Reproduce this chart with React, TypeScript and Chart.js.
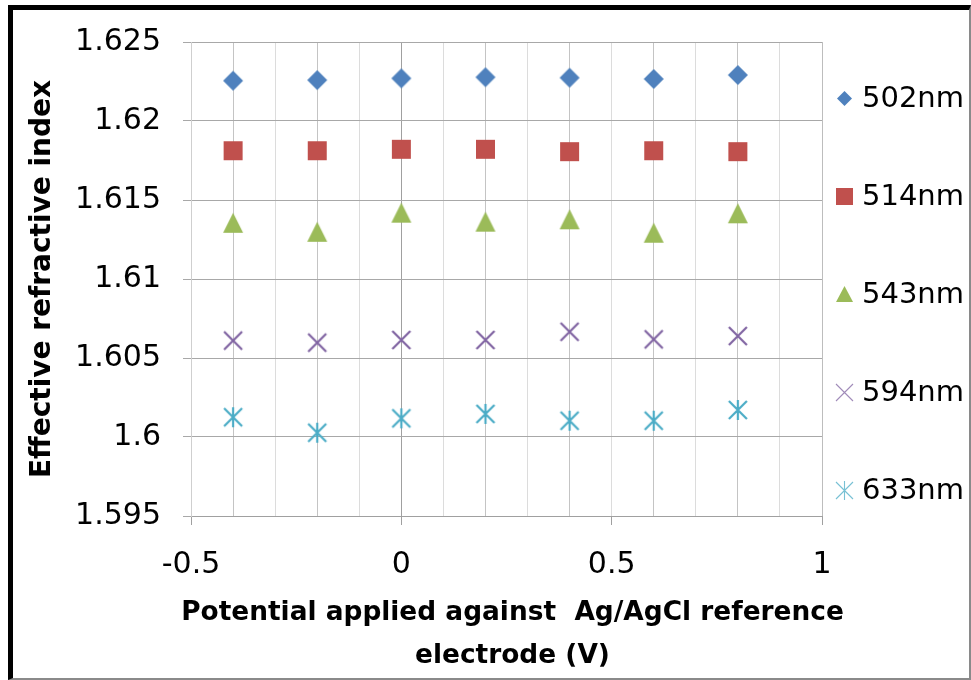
import React, { useEffect, useRef } from "react";
import { Chart, registerables } from "chart.js";

Chart.register(...registerables);

// Applied potential vs Ag/AgCl (V)
const potentials = [-0.4, -0.2, 0, 0.2, 0.4, 0.6, 0.8];

// Effective refractive index for each wavelength
const n502 = [1.62255, 1.62259, 1.6227, 1.62277, 1.62274, 1.62266, 1.62291];
const n514 = [1.61812, 1.61812, 1.61821, 1.61821, 1.61806, 1.61812, 1.61806];
const n543 = [1.61356, 1.61299, 1.6142, 1.61363, 1.61378, 1.61293, 1.61416];
const n594 = [1.6061, 1.60597, 1.60614, 1.60614, 1.60666, 1.60618, 1.60639];
const n633 = [1.60125, 1.60027, 1.60118, 1.60146, 1.60103, 1.60103, 1.60171];

const seriesLabels = ["502nm", "514nm", "543nm", "594nm", "633nm"];
const seriesColors = ["#4F81BD", "#C0504D", "#9BBB59", "#8064A2", "#4BACC6"];
const seriesShapes = ["diamond", "square", "triangle", "cross", "star"];

const yTitle = "Effective refractive index";
const xTitle = ["Potential applied against  Ag/AgCl reference", "electrode (V)"];

const FONT = "'DejaVu Sans', 'Open Sans', sans-serif";

// Builds a small canvas holding one marker, centred on its bounding box.
function makeMarker(shape: string, w: number, h: number, color: string, lw: number, alpha = 1) {
  const pad = 3;
  const c = document.createElement("canvas");
  c.width = Math.round(w + pad * 2);
  c.height = Math.round(h + pad * 2);
  const ctx = c.getContext("2d")!;
  const cx = c.width / 2;
  const cy = c.height / 2;
  ctx.globalAlpha = alpha;
  ctx.fillStyle = color;
  ctx.strokeStyle = color;
  ctx.lineWidth = lw;
  ctx.beginPath();
  if (shape === "diamond") {
    ctx.moveTo(cx, cy - h / 2);
    ctx.lineTo(cx + w / 2, cy);
    ctx.lineTo(cx, cy + h / 2);
    ctx.lineTo(cx - w / 2, cy);
    ctx.closePath();
    ctx.fill();
  } else if (shape === "square") {
    ctx.rect(cx - w / 2, cy - h / 2, w, h);
    ctx.fill();
  } else if (shape === "triangle") {
    ctx.moveTo(cx, cy - h / 2);
    ctx.lineTo(cx + w / 2, cy + h / 2);
    ctx.lineTo(cx - w / 2, cy + h / 2);
    ctx.closePath();
    ctx.fill();
  } else if (shape === "cross") {
    ctx.moveTo(cx - w / 2, cy - h / 2);
    ctx.lineTo(cx + w / 2, cy + h / 2);
    ctx.moveTo(cx + w / 2, cy - h / 2);
    ctx.lineTo(cx - w / 2, cy + h / 2);
    ctx.stroke();
  } else {
    ctx.moveTo(cx - w / 2, cy - h / 2);
    ctx.lineTo(cx + w / 2, cy + h / 2);
    ctx.moveTo(cx + w / 2, cy - h / 2);
    ctx.lineTo(cx - w / 2, cy + h / 2);
    ctx.moveTo(cx, cy - h / 2 - 1);
    ctx.lineTo(cx, cy + h / 2 + 1);
    ctx.stroke();
  }
  return c;
}

const plotMarkerSize: Record<string, [number, number, number]> = {
  diamond: [20, 20, 0],
  square: [19, 19, 0],
  triangle: [20, 20, 0],
  cross: [18, 18, 2.2],
  star: [18, 18, 2.2],
};
const legendMarkerSize: Record<string, [number, number, number]> = {
  diamond: [15, 15, 0],
  square: [17, 17, 0],
  triangle: [17, 16, 0],
  cross: [17, 17, 1.1],
  star: [17, 17, 1.1],
};

// Vertical legend to the right of the plot area, plus the two-line x-axis title
// (which is wider than the plot area, so it is drawn here without squeezing).
function makeSideDecor(markers: HTMLCanvasElement[]) {
  return {
    id: "sideDecor",
    afterDraw(chart: any) {
      const { ctx, chartArea } = chart;
      ctx.save();
      ctx.font = `29px ${FONT}`;
      ctx.fillStyle = "#000";
      ctx.textBaseline = "middle";
      ctx.textAlign = "left";
      chart.data.datasets.forEach((ds: any, i: number) => {
        const y = chartArea.top + 56 + i * 98.2;
        const mx = chartArea.right + 22;
        const m = markers[i];
        if (m) ctx.drawImage(m, Math.round(mx - m.width / 2), Math.round(y - m.height / 2));
        ctx.fillText(ds.label, chartArea.right + 40, y + 1);
      });

      ctx.font = `bold 26.4px ${FONT}`;
      ctx.textAlign = "center";
      const cx = (chartArea.left + chartArea.right) / 2 + 6;
      xTitle.forEach((line, i) => {
        ctx.fillText(line, cx, chartArea.bottom + 97 + i * 43);
      });
      ctx.restore();
    },
  };
}

function tenth(v: number) {
  return Math.round(v * 10);
}

export default function App() {
  const ref = useRef<HTMLCanvasElement | null>(null);

  useEffect(() => {
    if (!ref.current) return;
    const all = [n502, n514, n543, n594, n633];
    const plotMarkers = seriesShapes.map((s, i) => {
      const [w, h, lw] = plotMarkerSize[s];
      return makeMarker(s, w, h, seriesColors[i], lw);
    });
    const legendMarkers = seriesShapes.map((s, i) => {
      const [w, h, lw] = legendMarkerSize[s];
      return makeMarker(s, w, h, seriesColors[i], lw, s === "cross" || s === "star" ? 0.75 : 1);
    });

    const chart = new Chart(ref.current, {
      type: "scatter",
      data: {
        datasets: all.map((vals, i) => ({
          label: seriesLabels[i],
          data: potentials.map((x, j) => ({ x, y: vals[j] })),
          pointStyle: plotMarkers[i] as any,
          pointRadius: 10,
          backgroundColor: seriesColors[i],
          borderColor: seriesColors[i],
          showLine: false,
        })),
      },
      options: {
        animation: false,
        responsive: false,
        devicePixelRatio: 1,
        layout: { padding: { top: 42, right: 149, left: 0, bottom: 0 } },
        plugins: {
          legend: { display: false },
          tooltip: { enabled: false },
        },
        scales: {
          x: {
            type: "linear",
            min: -0.5,
            max: 1,
            afterFit: (s: any) => {
              s.height = 164;
            },
            ticks: {
              stepSize: 0.1,
              autoSkip: false,
              maxRotation: 0,
              padding: 22,
              color: "#000",
              font: { family: FONT, size: 30 },
              callback: (v: any) => {
                const t = tenth(Number(v));
                return t % 5 === 0 ? String(t / 10) : "";
              },
            },
            grid: {
              tickLength: 9,
              color: (c: any) => {
                const t = tenth(c.tick ? c.tick.value : 0);
                if (t === 0) return "#a0a0a0";
                if (t === 10) return "#bdbdbd";
                if (t % 2 === 0) return "#c4c4c4";
                return "#dcdcdc";
              },
              tickColor: (c: any) => {
                const t = tenth(c.tick ? c.tick.value : 0);
                return t % 5 === 0 ? "#a0a0a0" : "rgba(0,0,0,0)";
              },
            },
            border: { color: "#a0a0a0" },
            title: { display: false },
          },
          y: {
            type: "linear",
            min: 1.595,
            max: 1.625,
            afterFit: (s: any) => {
              s.width = 191;
            },
            ticks: {
              stepSize: 0.005,
              padding: 22,
              color: "#000",
              font: { family: FONT, size: 30 },
              callback: (v: any) => String(parseFloat(Number(v).toFixed(3))),
            },
            grid: {
              tickLength: 8,
              color: "#a8a8a8",
              tickColor: "#a8a8a8",
            },
            border: { color: "#cfcfcf" },
            title: {
              display: true,
              text: yTitle,
              color: "#000",
              font: { family: FONT, size: 28, weight: "bold" },
              padding: { top: 26, bottom: 0 },
            },
          },
        },
      },
      plugins: [makeSideDecor(legendMarkers)],
    });

    return () => chart.destroy();
  }, []);

  return (
    <div style={{ position: "fixed", left: 0, top: 0, width: 971, height: 680, background: "#fff" }}>
      <div
        style={{
          position: "absolute",
          left: 8,
          top: 5,
          width: 963,
          height: 675,
          boxSizing: "border-box",
          borderTop: "5px solid #000",
          borderLeft: "5px solid #000",
          borderRight: "2px solid #8a8a8a",
          borderBottom: "2px solid #8a8a8a",
        }}
      />
      <canvas ref={ref} width={971} height={680} style={{ position: "absolute", left: 0, top: 0 }} />
    </div>
  );
}
